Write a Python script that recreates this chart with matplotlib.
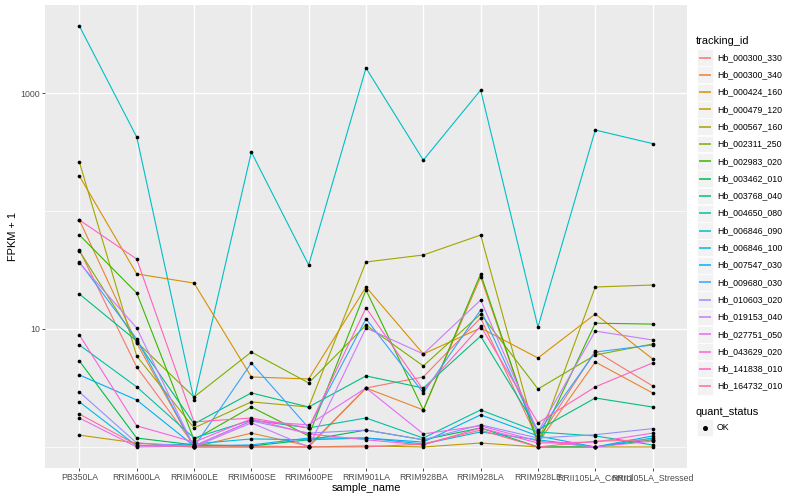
import numpy as np
import matplotlib.pyplot as plt
from matplotlib.patches import Rectangle
from matplotlib.lines import Line2D
from matplotlib.ticker import FixedLocator, NullFormatter

plt.rcParams['font.family'] = ['Liberation Sans', 'DejaVu Sans']

samples = ["PB350LA", "RRIM600LA", "RRIM600LE", "RRIM600SE", "RRIM600PE",
           "RRIM901LA", "RRIM928BA", "RRIM928LA", "RRIM928LE",
           "RRII105LA_Control", "RRII105LA_Stressed"]

tracking_ids = ["Hb_000300_330", "Hb_000300_340", "Hb_000424_160", "Hb_000479_120",
                "Hb_000567_160", "Hb_002311_250", "Hb_002983_020", "Hb_003462_010",
                "Hb_003768_040", "Hb_004650_080", "Hb_006846_090", "Hb_006846_100",
                "Hb_007547_030", "Hb_009680_030", "Hb_010603_020", "Hb_019153_040",
                "Hb_027751_050", "Hb_043629_020", "Hb_141838_010", "Hb_164732_010"]

# ggplot default hue palette for 20 levels
palette = ["#F8766D", "#EA8331", "#D89000", "#C09B00", "#A3A500", "#7CAE00",
           "#39B600", "#00BB4E", "#00BF7D", "#00C1A3", "#00BFC4", "#00BAE0",
           "#00B0F6", "#35A2FF", "#9590FF", "#C77CFF", "#E76BF3", "#FA62DB",
           "#FF62BC", "#FF6C91"]

# FPKM + 1, one list per gene, in sample order
hb_000300_330 = [46.7, 4.76, 1.04, 1.02, 1.0, 3.16, 3.92, 12.4, 1.15, 6.51, 3.29]
hb_000300_340 = [83.9, 7.61, 1.0, 1.31, 1.02, 3.16, 2.06, 27.6, 1.08, 5.25, 2.87]
hb_000424_160 = [198, 29.3, 24.5, 3.92, 3.77, 22.7, 6.14, 10.2, 5.68, 13.4, 5.57]
hb_000479_120 = [1.26, 1.08, 1.0, 1.0, 1.0, 1.02, 1.0, 1.08, 1.0, 1.0, 1.0]
hb_000567_160 = [260, 5.90, 1.45, 2.41, 2.18, 37.0, 42.4, 62.6, 1.08, 22.7, 23.6]
hb_002311_250 = [45.8, 7.76, 2.65, 6.38, 3.49, 10.8, 4.86, 13.4, 3.10, 6.02, 7.46]
hb_002983_020 = [62.6, 20.2, 1.15, 2.18, 1.24, 21.4, 2.06, 29.3, 1.06, 11.2, 11.0]
hb_003462_010 = [5.36, 1.19, 1.04, 1.02, 1.15, 1.39, 1.15, 1.45, 1.0, 1.0, 1.15]
hb_003768_040 = [19.8, 7.91, 1.57, 2.87, 2.18, 4.00, 3.16, 8.7, 1.39, 2.60, 2.18]
hb_004650_080 = [7.32, 3.23, 1.19, 1.69, 1.45, 1.76, 1.19, 2.06, 1.34, 1.24, 1.04]
hb_006846_090 = [3700, 424, 2.50, 316, 34.9, 1630, 270, 1060, 10.4, 486, 373]
hb_006846_100 = [2.41, 1.02, 1.06, 1.17, 1.15, 1.19, 1.06, 1.34, 1.15, 1.0, 1.19]
hb_007547_030 = [4.08, 2.50, 1.02, 1.04, 1.19, 1.19, 1.10, 1.87, 1.24, 1.0, 1.24]
hb_009680_030 = [37.0, 8.23, 1.0, 5.15, 1.45, 12.2, 2.87, 14.5, 1.31, 6.38, 7.32]
hb_010603_020 = [2.92, 1.08, 1.02, 1.66, 1.31, 1.39, 1.15, 1.54, 1.19, 1.27, 1.43]
hb_019153_040 = [36.3, 10.2, 1.0, 1.60, 1.0, 10.2, 6.14, 17.6, 1.34, 9.6, 8.07]
hb_027751_050 = [1.76, 1.0, 1.02, 1.66, 1.54, 3.16, 1.29, 1.51, 1.12, 1.0, 1.12]
hb_043629_020 = [8.9, 1.51, 1.10, 1.73, 1.29, 1.15, 1.04, 1.45, 1.08, 1.10, 1.31]
hb_141838_010 = [83.9, 39.2, 1.63, 1.76, 1.45, 15.1, 3.04, 10.6, 1.60, 3.23, 5.15]
hb_164732_010 = [1.90, 1.04, 1.0, 1.0, 1.0, 1.0, 1.06, 1.39, 1.0, 1.12, 1.15]

series = [hb_000300_330, hb_000300_340, hb_000424_160, hb_000479_120, hb_000567_160,
          hb_002311_250, hb_002983_020, hb_003462_010, hb_003768_040, hb_004650_080,
          hb_006846_090, hb_006846_100, hb_007547_030, hb_009680_030, hb_010603_020,
          hb_019153_040, hb_027751_050, hb_043629_020, hb_141838_010, hb_164732_010]

W, H = 800, 500
fig = plt.figure(figsize=(8, 5), dpi=100)
ax = fig.add_axes([45 / W, 1 - 468 / H, (687 - 45) / W, (468 - 5) / H])
ax.set_facecolor("#EBEBEB")
for s in ax.spines.values():
    s.set_visible(False)

x = np.arange(len(samples))
for vals, col in zip(series, palette):
    ax.plot(x, vals, color=col, lw=0.8, zorder=2)
for vals in series:
    ax.scatter(x, vals, s=7, color="black", zorder=3, linewidths=0)

ax.set_yscale("log")
lo = 0.0
hi = np.log10(max(max(v) for v in series))
pad = 0.05 * (hi - lo)
ax.set_ylim(10 ** (lo - pad), 10 ** (hi + pad))
ax.set_xlim(-0.6, len(samples) - 1 + 0.6)

ax.yaxis.set_major_locator(FixedLocator([10, 1000]))
ax.yaxis.set_minor_locator(FixedLocator([1, 100]))
ax.yaxis.set_minor_formatter(NullFormatter())
ax.set_yticklabels(["10", "1000"])
ax.set_xticks(x)
ax.set_xticklabels(samples)

ax.grid(which="major", color="white", lw=1.0)
ax.grid(which="minor", axis="y", color="white", lw=0.5)
ax.set_axisbelow(True)
ax.tick_params(which="major", length=2, width=0.6, color="#333333",
               labelsize=6.3, labelcolor="#4D4D4D", pad=1.6)
ax.tick_params(which="minor", length=0)

fig.text(13 / W, 1 - 236.5 / H, "FPKM + 1", rotation=90, ha="center", va="center", fontsize=7.9)
fig.text(366 / W, 1 - 488 / H, "sample_name", ha="center", va="center", fontsize=7.9)

# legend drawn by hand to get ggplot-like key boxes
fig.text(696 / W, 1 - 40.5 / H, "tracking_id", ha="left", va="center", fontsize=7.9)
for i, (tid, col) in enumerate(zip(tracking_ids, palette)):
    yc = 57.5 + i * 17.3
    fig.add_artist(Rectangle((696.5 / W, 1 - (yc + 8.4) / H), 16.8 / W, 16.8 / H,
                             transform=fig.transFigure, facecolor="#F2F2F2",
                             edgecolor="white", lw=0.5, zorder=1))
    fig.add_artist(Line2D([698.5 / W, 711 / W], [1 - yc / H, 1 - yc / H],
                          transform=fig.transFigure, color=col, lw=1.1,
                          solid_capstyle="butt", zorder=5))
    fig.text(717 / W, 1 - yc / H, tid, ha="left", va="center", fontsize=6.3)

fig.text(696 / W, 1 - 412 / H, "quant_status", ha="left", va="center", fontsize=7.9)
fig.add_artist(Rectangle((696.5 / W, 1 - (427.7 + 8.4) / H), 16.8 / W, 16.8 / H,
                         transform=fig.transFigure, facecolor="#F2F2F2",
                         edgecolor="white", lw=0.5, zorder=1))
fig.add_artist(Line2D([704.5 / W], [1 - 427.7 / H], transform=fig.transFigure,
                      marker="o", markersize=2.6, color="black", lw=0, zorder=5))
fig.text(717 / W, 1 - 427.7 / H, "OK", ha="left", va="center", fontsize=6.3)

fig.savefig("out.png", dpi=100)
